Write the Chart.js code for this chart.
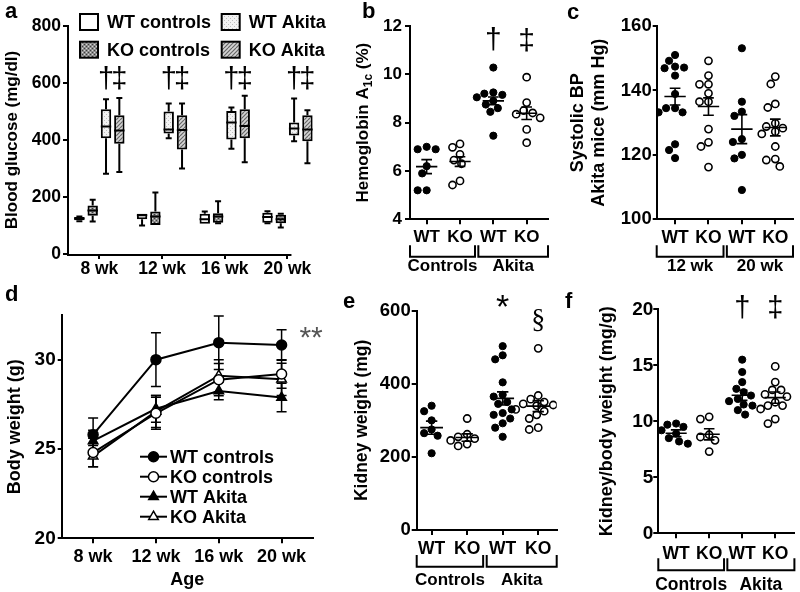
<!DOCTYPE html>
<html lang="en">
<head>
<meta charset="UTF-8">
<title>Akita mice panels</title>
<script src="https://cdn.jsdelivr.net/npm/chart.js"></script>
<style>
  html, body { margin: 0; padding: 0; background: #fff; }
  #fig { position: relative; width: 800px; height: 592px; overflow: hidden; }
  #fig canvas { position: absolute; }
  .tag { position: absolute; font: bold 22px 'Liberation Sans', Arial, sans-serif; line-height: 22px; color: #000; }
</style>
</head>
<body>
<div id="fig">
  <canvas id="cA"></canvas>
  <canvas id="cB"></canvas>
  <canvas id="cC"></canvas>
  <canvas id="cD"></canvas>
  <canvas id="cE"></canvas>
  <canvas id="cF"></canvas>
  <div class="tag" style="left:5px;top:0px">a</div>
  <div class="tag" style="left:362px;top:0px">b</div>
  <div class="tag" style="left:567px;top:1px">c</div>
  <div class="tag" style="left:5px;top:283px">d</div>
  <div class="tag" style="left:343px;top:290px">e</div>
  <div class="tag" style="left:565px;top:290px">f</div>
</div>
<script>
// ---------- data ----------
const weeks = ['8 wk', '12 wk', '16 wk', '20 wk'];
const groupNames = ['WT controls', 'KO controls', 'WT Akita', 'KO Akita'];
const genotypes = ['WT', 'KO', 'WT', 'KO'];
const cohorts = ['Controls', 'Akita'];
const bpWeeks = ['12 wk', '20 wk'];

// a: blood glucose, per week [min, q1, median, q3, max] (mg/dl)
const gluWtCtrl  = [[115, 118, 125, 130, 132], [100, 122, 136, 141, 141], [106, 106, 122, 141, 149], [108, 110, 130, 145, 150]];
const gluKoCtrl  = [[114, 134, 153, 170, 190], [102, 102, 132, 149, 216], [108, 110, 132, 143, 185], [93, 108, 122, 138, 141]];
const gluWtAkita = [[282, 406, 447, 508, 543], [406, 423, 437, 500, 528], [369, 402, 461, 502, 514], [396, 416, 440, 461, 546]];
const gluKoAkita = [[288, 387, 433, 487, 547], [300, 367, 435, 487, 528], [322, 406, 449, 508, 555], [318, 396, 437, 487, 504]];

// b: hemoglobin A1c (%)
const hbaWtCtrl  = [7.0, 6.9, 6.9, 6.2, 5.9, 5.2, 5.2];
const hbaKoCtrl  = [7.12, 6.98, 6.69, 6.45, 6.3, 5.59, 5.42];
const hbaWtAkita = [10.28, 9.25, 9.2, 9.15, 9.05, 8.9, 8.75, 8.6, 8.45, 7.46];
const hbaKoAkita = [9.88, 8.83, 8.5, 8.4, 8.35, 8.2, 7.72, 7.17];
const hbaMean = [6.18, 6.39, 8.9, 8.39];
const hbaSem  = [0.29, 0.2, 0.16, 0.26];

// c: systolic BP in Akita mice (mm Hg)
const bpWt12 = [151, 149.2, 147.4, 147.1, 146.9, 144.6, 138.9, 134.5, 134.5, 133.2, 133.2, 123.3, 121.5, 119];
const bpKo12 = [149.2, 144.6, 141.9, 141.9, 139.1, 136.5, 136.5, 128, 123.9, 122.6, 116.2];
const bpWt20 = [153.1, 136.5, 133.4, 132.1, 124.9, 124, 120, 118.9, 109.1];
const bpKo20 = [144.3, 142, 135.8, 134.7, 129.8, 128.8, 128.3, 127.2, 126.5, 122.6, 118.7, 118.4, 116.4];
const bpMean = [138.1, 135, 128, 128.5];
const bpSem  = [2.6, 2.7, 4.5, 2.6];

// d: body weight (g), mean and SEM per week
const bwWtCtrl  = [25.8, 30.0, 30.95, 30.82];
const bwKoCtrl  = [24.8, 27.0, 28.88, 29.2];
const bwWtAkita = [25.45, 27.25, 28.25, 27.88];
const bwKoAkita = [24.6, 27.1, 29.1, 28.9];
const bwWtCtrlSem  = [0.93, 1.5, 1.5, 0.85];
const bwKoCtrlSem  = [0.8, 0.9, 0.9, 0.8];
const bwWtAkitaSem = [0.6, 0.75, 0.5, 0.8];
const bwKoAkitaSem = [0.6, 0.9, 0.9, 0.9];

// e: kidney weight (mg)
const kwWtCtrl  = [340, 325, 300, 275, 265, 258, 210];
const kwKoCtrl  = [305, 262, 255, 250, 245, 235, 230];
const kwWtAkita = [503, 478, 467, 404, 370, 365, 350, 345, 330, 320, 315, 305, 292, 280, 255];
const kwKoAkita = [497, 368, 358, 350, 345, 342, 340, 330, 325, 315, 305, 280, 275];
const kwMean = [280, 253, 360, 339];
const kwSem  = [18, 10, 18, 15];

// f: kidney / body weight (mg/g)
const kbwWtCtrl  = [9.8, 9.7, 9.5, 9.2, 8.9, 8.5, 8.2, 8.0];
const kbwKoCtrl  = [10.4, 10.2, 8.8, 8.6, 8.3, 7.3];
const kbwWtAkita = [15.5, 14.4, 13.5, 12.9, 12.6, 12.3, 12.0, 11.8, 11.5, 11.4, 11.0, 10.6];
const kbwKoAkita = [14.9, 13.5, 12.8, 12.8, 12.4, 12.2, 11.7, 11.4, 11.4, 11.1, 10.2, 9.8];
const kbwMean = [8.93, 8.84, 12.32, 12.11];
const kbwSem  = [0.3, 0.5, 0.45, 0.5];

// ---------- setup ----------
const FAM = "'Liberation Sans', Arial, sans-serif";
Chart.defaults.font.family = FAM;
Chart.defaults.color = '#000';
Chart.defaults.animation = false;
Chart.defaults.responsive = false;
Chart.defaults.events = [];
Chart.defaults.plugins.legend.display = false;
Chart.defaults.plugins.tooltip.enabled = false;

function setupCanvas(id, box) {
  const c = document.getElementById(id);
  c.width = box.w; c.height = box.h;
  c.style.left = box.x + 'px'; c.style.top = box.y + 'px';
  return c;
}
function padFor(box, area, yW, xH) {
  return {
    left: area.l - box.x - yW,
    top: area.t - box.y,
    right: box.x + box.w - area.r,
    bottom: box.y + box.h - area.b - xH
  };
}
function yAxis(min, max, step, yW, size, tickLen, pad, title) {
  return {
    min, max,
    ticks: { stepSize: step, includeBounds: false, font: { size, weight: 'bold' }, padding: pad, color: '#000' },
    grid: { display: true, drawOnChartArea: false, drawTicks: true, tickLength: tickLen, color: '#000', lineWidth: 2 },
    border: { display: true, color: '#000', width: 2 },
    title: title || { display: false },
    afterFit: s => { s.width = yW; }
  };
}
function pattern(size, draw) {
  const c = document.createElement('canvas');
  c.width = c.height = size;
  const g = c.getContext('2d');
  draw(g, size);
  return g.createPattern(c, 'repeat');
}

// simple beeswarm: spread points sideways (in pixels) so they don't overlap
function swarm(vals, center, pxX, pxY, r) {
  const order = vals.map((v, i) => i).sort((a, b) => vals[b] - vals[a]);
  const placed = [];
  const out = new Array(vals.length);
  const gap = 2 * r + 1;
  for (const i of order) {
    const py = vals[i] * pxY;
    let off = 0;
    for (let k = 0; k < 60; k++) {
      const cand = (k % 2 ? -1 : 1) * Math.ceil(k / 2) * 1.5;
      if (placed.every(p => Math.hypot(p.x - cand, p.y - py) >= gap)) { off = cand; break; }
    }
    placed.push({ x: off, y: py });
    out[i] = { x: center + off / pxX, y: vals[i] };
  }
  return out;
}

// drawing extras that Chart.js has no built-in element for
function extras(o) {
  return {
    id: 'extras',
    beforeDatasetsDraw(chart) {
      const { ctx, scales: { y } } = chart;
      if (o.errors) {
        ctx.save(); ctx.strokeStyle = '#000'; ctx.lineWidth = 1.5;
        chart.data.datasets.forEach((ds, di) => {
          const meta = chart.getDatasetMeta(di);
          ds.data.forEach((m, j) => {
            const px = meta.data[j].x, e = o.errors[di][j];
            const yt = y.getPixelForValue(m + e), yb = y.getPixelForValue(m - e);
            ctx.beginPath();
            ctx.moveTo(px, yt); ctx.lineTo(px, yb);
            ctx.moveTo(px - 5, yt); ctx.lineTo(px + 5, yt);
            ctx.moveTo(px - 5, yb); ctx.lineTo(px + 5, yb);
            ctx.stroke();
          });
        });
        ctx.restore();
      }
    },
    afterDatasetsDraw(chart) {
      const { ctx, scales: { x, y } } = chart;
      if (o.boxes) {
        ctx.save(); ctx.strokeStyle = '#000'; ctx.lineWidth = 2;
        o.boxes.forEach((stats, di) => {
          const meta = chart.getDatasetMeta(di);
          stats.forEach((st, i) => {
            const bar = meta.data[i];
            const px = bar.x, hw = bar.width / 2;
            const [lo, q1, med, q3, hi] = st.map(v => y.getPixelForValue(v));
            ctx.beginPath();
            if (hi < q3 - 0.5) { ctx.moveTo(px, q3); ctx.lineTo(px, hi); ctx.moveTo(px - 3, hi); ctx.lineTo(px + 3, hi); }
            if (lo > q1 + 0.5) { ctx.moveTo(px, q1); ctx.lineTo(px, lo); ctx.moveTo(px - 3, lo); ctx.lineTo(px + 3, lo); }
            ctx.moveTo(px - hw, med); ctx.lineTo(px + hw, med);
            ctx.stroke();
          });
        });
        ctx.restore();
      }
      if (o.meanSem) {
        const { mean, sem, half, cap } = o.meanSem;
        ctx.save(); ctx.strokeStyle = '#000'; ctx.lineWidth = 1.6;
        mean.forEach((m, i) => {
          const c = i + 1;
          const ym = y.getPixelForValue(m), yt = y.getPixelForValue(m + sem[i]), yb = y.getPixelForValue(m - sem[i]);
          const xc = x.getPixelForValue(c);
          const xl = x.getPixelForValue(c - half), xr = x.getPixelForValue(c + half);
          const cl = x.getPixelForValue(c - cap), cr = x.getPixelForValue(c + cap);
          ctx.beginPath();
          ctx.moveTo(xl, ym); ctx.lineTo(xr, ym);
          ctx.moveTo(xc, yt); ctx.lineTo(xc, yb);
          ctx.moveTo(cl, yt); ctx.lineTo(cr, yt);
          ctx.moveTo(cl, yb); ctx.lineTo(cr, yb);
          ctx.stroke();
        });
        ctx.restore();
      }
    },
    afterDraw(chart) {
      const { ctx, chartArea: area, scales: { x, y } } = chart;
      if (o.axisEnd !== undefined) {
        ctx.save(); ctx.strokeStyle = '#000'; ctx.lineWidth = 2;
        ctx.beginPath();
        ctx.moveTo(area.left - 1, area.bottom + 1);
        ctx.lineTo(x.getPixelForValue(o.axisEnd) + 4, area.bottom + 1);
        ctx.stroke(); ctx.restore();
      }
      if (o.brackets) {
        const b = o.brackets;
        ctx.save(); ctx.strokeStyle = '#000'; ctx.lineWidth = 2;
        ctx.fillStyle = '#000'; ctx.font = b.font; ctx.textAlign = 'center'; ctx.textBaseline = 'middle';
        b.spans.forEach((sp, i) => {
          const x0 = x.getPixelForValue(sp[0]), x1 = x.getPixelForValue(sp[1]);
          const yt = area.bottom + b.top, yb = area.bottom + b.bottom;
          ctx.beginPath();
          ctx.moveTo(x0, yt); ctx.lineTo(x0, yb); ctx.lineTo(x1, yb); ctx.lineTo(x1, yt);
          ctx.stroke();
          ctx.fillText(b.labels[i], (x0 + x1) / 2, area.bottom + b.labelY);
        });
        ctx.restore();
      }
      if (o.notes) {
        o.notes.forEach(n => {
          ctx.save(); ctx.font = n.font; ctx.fillStyle = n.color || '#000';
          ctx.textAlign = 'center'; ctx.textBaseline = 'middle';
          const py = y.getPixelForValue(n.y);
          if (n.ds !== undefined) {
            chart.getDatasetMeta(n.ds).data.forEach(el => ctx.fillText(n.text, el.x, py));
          } else {
            ctx.fillText(n.text, x.getPixelForValue(n.x), py);
          }
          ctx.restore();
        });
      }
      if (o.boxLegend) {
        const L = o.boxLegend;
        ctx.save();
        chart.data.datasets.forEach((ds, i) => {
          const lx = area.left + L.cols[Math.floor(i / 2)], ly = area.top + L.rows[i % 2];
          ctx.fillStyle = ds.backgroundColor; ctx.fillRect(lx, ly, L.w, L.h);
          ctx.strokeStyle = '#000'; ctx.lineWidth = 2; ctx.strokeRect(lx, ly, L.w, L.h);
          ctx.fillStyle = '#000'; ctx.font = L.font; ctx.textAlign = 'left'; ctx.textBaseline = 'middle';
          ctx.fillText(ds.label, lx + L.w + 9, ly + L.h / 2 + 1);
        });
        ctx.restore();
      }
      if (o.lineLegend) {
        const L = o.lineLegend;
        ctx.save();
        chart.data.datasets.forEach((ds, i) => {
          const lx = area.left + L.x0, ly = area.top + L.rows[i], mx = lx + L.len / 2;
          ctx.strokeStyle = '#000'; ctx.lineWidth = 2;
          ctx.beginPath(); ctx.moveTo(lx, ly); ctx.lineTo(lx + L.len, ly); ctx.stroke();
          const r = ds.pointRadius;
          ctx.beginPath();
          if (ds.pointStyle === 'triangle') {
            ctx.moveTo(mx, ly - r); ctx.lineTo(mx + r * 0.866, ly + r / 2); ctx.lineTo(mx - r * 0.866, ly + r / 2); ctx.closePath();
          } else {
            ctx.arc(mx, ly, r, 0, Math.PI * 2);
          }
          ctx.fillStyle = ds.pointBackgroundColor; ctx.fill();
          ctx.lineWidth = ds.pointBorderWidth; ctx.stroke();
          ctx.fillStyle = '#000'; ctx.font = L.font; ctx.textAlign = 'left'; ctx.textBaseline = 'middle';
          ctx.fillText(ds.label, lx + L.len + 3, ly + 1);
        });
        ctx.restore();
      }
      if (o.yTitle) {
        const t = o.yTitle;
        ctx.save();
        ctx.translate(area.left + t.dx, (area.top + area.bottom) / 2);
        ctx.rotate(-Math.PI / 2);
        let total = 0;
        t.parts.forEach(p => { ctx.font = `bold ${p.size}px ${FAM}`; total += ctx.measureText(p.text).width; });
        let xx = -total / 2;
        ctx.fillStyle = '#000'; ctx.textAlign = 'left'; ctx.textBaseline = 'alphabetic';
        t.parts.forEach(p => {
          ctx.font = `bold ${p.size}px ${FAM}`;
          ctx.fillText(p.text, xx, 6 + (p.dy || 0));
          xx += ctx.measureText(p.text).width;
        });
        ctx.restore();
      }
    }
  };
}

// ---------- panel a: box plots ----------
(function () {
  const box = { x: 0, y: 0, w: 330, h: 290 }, area = { l: 68, t: 26, r: 318.8, b: 254 };
  const yW = 68, xH = 30;
  const fillKoCtrl = pattern(4, (g, n) => {
    g.fillStyle = '#8c8c8c'; g.fillRect(0, 0, n, n);
    g.fillStyle = '#3c3c3c'; g.fillRect(0, 0, 1, 1); g.fillRect(2, 2, 1, 1);
    g.fillStyle = '#d6d6d6'; g.fillRect(2, 0, 1, 1); g.fillRect(0, 2, 1, 1);
  });
  const fillWtAkita = pattern(4, (g, n) => {
    g.fillStyle = '#f2f2f2'; g.fillRect(0, 0, n, n);
    g.fillStyle = '#bdbdbd'; g.fillRect(0, 0, 1, 1); g.fillRect(2, 2, 1, 1);
  });
  const fillKoAkita = pattern(8, (g, n) => {
    g.fillStyle = '#d4d4d4'; g.fillRect(0, 0, n, n);
    g.strokeStyle = '#666'; g.lineWidth = 1.2; g.beginPath();
    for (let k = -n; k <= n; k += 4) { g.moveTo(k, n); g.lineTo(k + n, 0); }
    g.stroke();
  });
  const stats = [gluWtCtrl, gluKoCtrl, gluWtAkita, gluKoAkita];
  const fills = ['#fff', fillKoCtrl, fillWtAkita, fillKoAkita];
  new Chart(setupCanvas('cA', box), {
    type: 'bar',
    data: {
      labels: weeks,
      datasets: stats.map((s, i) => ({
        label: groupNames[i],
        data: s.map(v => [v[1], v[3]]),
        backgroundColor: fills[i],
        borderColor: '#000', borderWidth: 2, borderSkipped: false,
        categoryPercentage: 0.85, barPercentage: 0.78
      }))
    },
    options: {
      layout: { padding: padFor(box, area, yW, xH) },
      scales: {
        x: {
          ticks: { font: { size: 17.5, weight: 'bold' }, padding: 0, color: '#000', maxRotation: 0 },
          grid: { display: true, offset: false, drawOnChartArea: false, tickLength: 5, color: '#000', lineWidth: 2 },
          border: { display: false },
          afterFit: s => { s.height = xH; }
        },
        y: yAxis(0, 800, 200, yW, 17.5, 5, 2,
          { display: true, text: 'Blood glucose (mg/dl)', font: { size: 17, weight: 'bold' }, padding: { top: 2, bottom: 0 }, color: '#000' })
      }
    },
    plugins: [extras({
      boxes: stats,
      axisEnd: 3,
      notes: [
        { ds: 2, y: 612, text: '†', font: `29px ${FAM}` },
        { ds: 3, y: 612, text: '‡', font: `29px ${FAM}` }
      ],
      boxLegend: { cols: [12, 153.7], rows: [-12, 15.7], w: 18, h: 16, font: `bold 18px ${FAM}` }
    })]
  });
})();

// ---------- scatter panels b, c, e, f ----------
function scatterPanel(id, p) {
  const { box, area, yW, xH } = p;
  const pxX = (area.r - area.l) / (p.xMax - p.xMin);
  const pxY = (area.b - area.t) / (p.yMax - p.yMin);
  const r = 3.6;
  new Chart(setupCanvas(id, box), {
    type: 'scatter',
    data: {
      datasets: p.groups.map((vals, g) => ({
        data: swarm(vals, g + 1, pxX, pxY, r),
        pointRadius: r,
        pointBackgroundColor: g % 2 === 0 ? '#000' : '#fff',
        pointBorderColor: '#000',
        pointBorderWidth: g % 2 === 0 ? 1 : 1.6
      }))
    },
    options: {
      layout: { padding: padFor(box, area, yW, xH) },
      scales: {
        x: {
          type: 'linear', min: p.xMin, max: p.xMax,
          afterBuildTicks: s => { s.ticks = genotypes.map((c, i) => ({ value: i + 1 })); },
          ticks: { callback: (v, i) => genotypes[i], autoSkip: false, maxRotation: 0,
                   font: { size: p.xFont, weight: 'bold' }, padding: p.xPad, color: '#000' },
          grid: { display: true, drawOnChartArea: false, tickLength: 5, color: '#000', lineWidth: 2 },
          border: { display: true, color: '#000', width: 2 },
          afterFit: s => { s.height = xH; }
        },
        y: yAxis(p.yMin, p.yMax, p.yStep, yW, p.yFont, p.tickLen, p.yPad, p.yTitle)
      }
    },
    plugins: [extras({
      meanSem: { mean: p.mean, sem: p.sem, half: 0.32, cap: 0.16 },
      brackets: { spans: [[p.xMin, 2.45], [2.55, p.xMax]], labels: p.super, top: p.br[0], bottom: p.br[1], labelY: p.br[2], font: `bold ${p.superFont}px ${FAM}` },
      notes: p.notes,
      yTitle: p.customTitle
    })]
  });
}

scatterPanel('cB', {
  box: { x: 330, y: 0, w: 235, h: 290 }, area: { l: 410, t: 26, r: 548, b: 219.3 }, yW: 80, xH: 30,
  yMin: 4, yMax: 12, yStep: 2, xMin: 0.5, xMax: 4.64,
  groups: [hbaWtCtrl, hbaKoCtrl, hbaWtAkita, hbaKoAkita], mean: hbaMean, sem: hbaSem,
  super: cohorts, xFont: 17, xPad: 3, yFont: 17, tickLen: 5, yPad: 3, superFont: 17, br: [26, 37.5, 47.5],
  yTitle: { display: false },
  customTitle: { dx: -48.3, parts: [{ text: 'Hemoglobin A', size: 17 }, { text: '1c', size: 12, dy: 4 }, { text: ' (%)', size: 17 }] },
  notes: [{ x: 3, y: 11.37, text: '†', font: `30px ${FAM}` }, { x: 4, y: 11.35, text: '‡', font: `30px ${FAM}` }]
});

scatterPanel('cC', {
  box: { x: 565, y: 0, w: 235, h: 290 }, area: { l: 656.7, t: 26, r: 793, b: 219.3 }, yW: 91.7, xH: 30,
  yMin: 100, yMax: 160, yStep: 20, xMin: 0.45, xMax: 4.53,
  groups: [bpWt12, bpKo12, bpWt20, bpKo20], mean: bpMean, sem: bpSem,
  super: bpWeeks, xFont: 17.5, xPad: 3, yFont: 18.5, tickLen: 4, yPad: 1, superFont: 17, br: [26, 37.5, 47.5],
  yTitle: { display: true, text: ['Systolic BP', 'Akita mice (mm Hg)'], font: { size: 18, weight: 'bold' }, padding: { top: 1.9, bottom: 0 }, color: '#000' },
  notes: []
});

scatterPanel('cE', {
  box: { x: 330, y: 290, w: 235, h: 302 }, area: { l: 416.7, t: 310.7, r: 556.7, b: 530 }, yW: 86.7, xH: 30,
  yMin: 0, yMax: 600, yStep: 200, xMin: 0.58, xMax: 4.52,
  groups: [kwWtCtrl, kwKoCtrl, kwWtAkita, kwKoAkita], mean: kwMean, sem: kwSem,
  super: cohorts, xFont: 17.5, xPad: 4, yFont: 18.5, tickLen: 5, yPad: 1, superFont: 17, br: [25, 36.7, 50],
  yTitle: { display: true, text: 'Kidney weight (mg)', font: { size: 17.5, weight: 'bold' }, padding: { top: 21.2, bottom: 0 }, color: '#000' },
  notes: [{ x: 3, y: 607, text: '*', font: `34px ${FAM}` }, { x: 4, y: 573, text: '§', font: `28px 'Liberation Serif', serif` }]
});

scatterPanel('cF', {
  box: { x: 565, y: 290, w: 235, h: 302 }, area: { l: 658.3, t: 309.3, r: 798, b: 533.3 }, yW: 93.3, xH: 30,
  yMin: 0, yMax: 20, yStep: 5, xMin: 0.46, xMax: 4.58,
  groups: [kbwWtCtrl, kbwKoCtrl, kbwWtAkita, kbwKoAkita], mean: kbwMean, sem: kbwSem,
  super: cohorts, xFont: 17.5, xPad: 5, yFont: 19, tickLen: 5, yPad: 0, superFont: 17.5, br: [25, 37, 52],
  yTitle: { display: true, text: 'Kidney/body weight (mg/g)', font: { size: 18, weight: 'bold' }, padding: { top: 31.5, bottom: 0 }, color: '#000' },
  notes: [{ x: 3, y: 20, text: '†', font: `29px ${FAM}` }, { x: 4, y: 20, text: '‡', font: `29px ${FAM}` }]
});

// ---------- panel d: body weight lines ----------
(function () {
  const box = { x: 0, y: 290, w: 330, h: 302 }, area = { l: 61.7, t: 315, r: 313, b: 538.3 };
  const yW = 61.7, xH = 592 - 538.3;
  const series = [bwWtCtrl, bwKoCtrl, bwWtAkita, bwKoAkita];
  const errs = [bwWtCtrlSem, bwKoCtrlSem, bwWtAkitaSem, bwKoAkitaSem];
  const styles = ['circle', 'circle', 'triangle', 'triangle'];
  const fills = ['#000', '#fff', '#000', '#fff'];
  new Chart(setupCanvas('cD', box), {
    type: 'line',
    data: {
      labels: weeks,
      datasets: series.map((s, i) => ({
        label: groupNames[i], data: s,
        borderColor: '#000', borderWidth: 2, tension: 0,
        pointStyle: styles[i], pointRadius: i < 2 ? 5 : 5.5,
        pointBackgroundColor: fills[i], pointBorderColor: '#000', pointBorderWidth: 1.5
      }))
    },
    options: {
      layout: { padding: padFor(box, area, yW, xH) },
      scales: {
        x: {
          offset: true,
          ticks: { font: { size: 18, weight: 'bold' }, padding: 3, color: '#000', maxRotation: 0 },
          grid: { display: true, offset: false, drawOnChartArea: false, tickLength: 5, color: '#000', lineWidth: 2 },
          border: { display: true, color: '#000', width: 2 },
          title: { display: true, text: 'Age', font: { size: 18, weight: 'bold' }, padding: { top: 0, bottom: 1.2 }, color: '#000' },
          afterFit: s => { s.height = xH; }
        },
        y: yAxis(20, 32.5, 5, yW, 19, 4, 2,
          { display: true, text: 'Body weight (g)', font: { size: 18, weight: 'bold' }, padding: { top: 4.2, bottom: 0 }, color: '#000' })
      }
    },
    plugins: [extras({
      errors: errs,
      notes: [{ x: 3.47, y: 31.15, text: '**', font: `30px ${FAM}`, color: '#555' }],
      lineLegend: { x0: 78.3, rows: [141.7, 161.7, 181.7, 201.7], len: 27, font: `bold 18px ${FAM}` }
    })]
  });
})();
</script>
</body>
</html>
